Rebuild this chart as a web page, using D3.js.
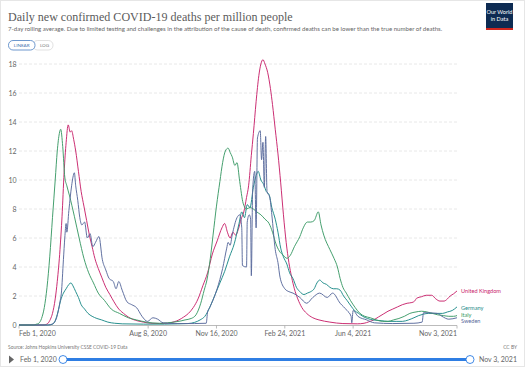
<!DOCTYPE html>
<html><head><meta charset="utf-8">
<script src="https://cdn.jsdelivr.net/npm/d3@7"></script>
<style>html,body{margin:0;padding:0;background:#fff;}svg{display:block;}</style>
</head><body>
<svg id="chart" width="525" height="367"></svg>
<script>
const countries = ["United Kingdom", "Germany", "Italy", "Sweden"];
const colors = ["#c8246c", "#1c8a88", "#3b9a66", "#58699c"];
const yTicks = [0, 2, 4, 6, 8, 10, 12, 14, 16, 18];
const xTickDates = ["2020-02-01", "2020-08-08", "2020-11-16", "2021-02-24", "2021-06-04", "2021-11-03"];
const xTickLabels = ["Feb 1, 2020", "Aug 8, 2020", "Nov 16, 2020", "Feb 24, 2021", "Jun 4, 2021", "Nov 3, 2021"];

const ukDates = ["2020-02-01","2020-03-07","2020-03-11","2020-03-14","2020-03-18","2020-03-21","2020-03-25","2020-03-28","2020-04-01","2020-04-04","2020-04-07","2020-04-10","2020-04-13","2020-04-16","2020-04-18","2020-04-21","2020-04-24","2020-04-28","2020-05-02","2020-05-06","2020-05-10","2020-05-14","2020-05-18","2020-05-22","2020-05-27","2020-06-01","2020-06-07","2020-06-13","2020-06-19","2020-06-26","2020-07-03","2020-07-10","2020-07-17","2020-07-24","2020-08-01","2020-08-12","2020-08-25","2020-09-05","2020-09-15","2020-09-22","2020-09-29","2020-10-06","2020-10-13","2020-10-20","2020-10-27","2020-11-03","2020-11-10","2020-11-17","2020-11-24","2020-11-28","2020-12-02","2020-12-06","2020-12-10","2020-12-14","2020-12-18","2020-12-22","2020-12-26","2020-12-30","2021-01-02","2021-01-06","2021-01-09","2021-01-13","2021-01-17","2021-01-20","2021-01-23","2021-01-26","2021-01-30","2021-02-03","2021-02-06","2021-02-10","2021-02-14","2021-02-18","2021-02-22","2021-02-26","2021-03-02","2021-03-06","2021-03-10","2021-03-15","2021-03-21","2021-03-28","2021-04-06","2021-04-15","2021-05-01","2021-05-20","2021-06-10","2021-06-20","2021-06-27","2021-07-04","2021-07-11","2021-07-18","2021-07-25","2021-08-01","2021-08-08","2021-08-15","2021-08-22","2021-08-29","2021-09-02","2021-09-05","2021-09-12","2021-09-19","2021-09-27","2021-10-03","2021-10-09","2021-10-15","2021-10-20","2021-10-24","2021-10-29","2021-11-03"];
const ukValues = [0,0,0.03,0.1,0.4,0.8,1.8,3.0,5.2,7.5,10.5,12.6,13.8,13.3,13.4,12.8,12.0,10.6,9.2,8.2,7.2,6.2,5.4,4.6,3.9,3.3,2.6,2.1,1.6,1.1,0.8,0.55,0.38,0.28,0.2,0.12,0.1,0.12,0.22,0.35,0.55,0.8,1.2,1.8,2.7,3.6,4.9,5.8,6.7,7.0,6.4,6.0,6.4,6.2,6.6,7.3,7.8,8.8,9.6,11.7,13.2,15.4,17.2,18.0,18.3,18.0,17.4,16.3,15.2,13.5,11.8,9.8,7.6,5.7,4.3,3.3,2.5,1.8,1.2,0.8,0.5,0.35,0.2,0.1,0.08,0.12,0.22,0.35,0.55,0.75,0.95,1.1,1.25,1.4,1.5,1.55,1.65,1.85,1.95,2.05,2.05,1.8,1.65,1.65,1.8,2.0,2.15,2.35];

const deDates = ["2020-02-01","2020-03-14","2020-03-21","2020-03-25","2020-03-29","2020-04-02","2020-04-06","2020-04-10","2020-04-14","2020-04-17","2020-04-20","2020-04-24","2020-04-28","2020-05-02","2020-05-07","2020-05-12","2020-05-18","2020-05-25","2020-06-01","2020-06-10","2020-06-20","2020-07-01","2020-08-01","2020-09-01","2020-09-20","2020-10-05","2020-10-15","2020-10-23","2020-10-30","2020-11-07","2020-11-14","2020-11-21","2020-11-28","2020-12-05","2020-12-12","2020-12-19","2020-12-23","2020-12-27","2020-12-31","2021-01-04","2021-01-09","2021-01-13","2021-01-16","2021-01-20","2021-01-24","2021-01-28","2021-02-01","2021-02-05","2021-02-10","2021-02-14","2021-02-18","2021-02-22","2021-02-27","2021-03-03","2021-03-08","2021-03-13","2021-03-18","2021-03-24","2021-03-29","2021-04-03","2021-04-08","2021-04-12","2021-04-16","2021-04-21","2021-04-26","2021-05-01","2021-05-06","2021-05-11","2021-05-16","2021-05-21","2021-05-26","2021-06-01","2021-06-06","2021-06-12","2021-06-18","2021-06-25","2021-07-03","2021-07-15","2021-07-25","2021-08-07","2021-08-15","2021-08-24","2021-09-01","2021-09-08","2021-09-15","2021-09-22","2021-09-29","2021-10-06","2021-10-13","2021-10-20","2021-10-27","2021-11-03"];
const deValues = [0,0,0.05,0.3,0.9,1.7,2.2,2.5,2.8,2.9,2.7,2.3,1.9,1.4,1.1,0.8,0.6,0.45,0.35,0.2,0.12,0.08,0.06,0.06,0.08,0.1,0.18,0.35,0.6,1.3,2.1,2.9,3.7,4.7,5.6,7.0,7.8,7.4,8.3,8.1,9.5,10.3,10.6,10.0,9.7,9.2,9.0,8.1,7.3,6.4,5.3,4.7,4.2,3.6,3.2,2.6,2.3,2.1,2.2,2.3,2.5,2.9,3.1,2.9,2.8,2.6,2.5,2.5,2.4,2.0,1.7,1.3,1.0,0.8,0.6,0.45,0.35,0.3,0.25,0.25,0.25,0.35,0.5,0.65,0.75,0.8,0.8,0.8,0.8,0.9,1.0,1.25];

const itDates = ["2020-02-01","2020-02-22","2020-02-26","2020-03-01","2020-03-05","2020-03-09","2020-03-13","2020-03-17","2020-03-21","2020-03-25","2020-03-28","2020-03-31","2020-04-02","2020-04-05","2020-04-08","2020-04-11","2020-04-15","2020-04-22","2020-04-29","2020-05-06","2020-05-13","2020-05-20","2020-05-27","2020-06-05","2020-06-15","2020-06-27","2020-07-10","2020-07-22","2020-08-05","2020-08-15","2020-08-25","2020-09-05","2020-09-15","2020-09-25","2020-10-01","2020-10-10","2020-10-17","2020-10-24","2020-10-29","2020-11-02","2020-11-07","2020-11-11","2020-11-16","2020-11-21","2020-11-25","2020-11-29","2020-12-03","2020-12-06","2020-12-09","2020-12-13","2020-12-16","2020-12-20","2020-12-25","2020-12-30","2021-01-04","2021-01-09","2021-01-14","2021-01-20","2021-01-26","2021-02-01","2021-02-06","2021-02-11","2021-02-16","2021-02-22","2021-02-27","2021-03-04","2021-03-10","2021-03-18","2021-03-23","2021-03-29","2021-04-03","2021-04-08","2021-04-14","2021-04-18","2021-04-22","2021-05-01","2021-05-07","2021-05-12","2021-05-16","2021-05-20","2021-05-25","2021-05-31","2021-06-07","2021-06-14","2021-06-21","2021-06-29","2021-07-08","2021-07-17","2021-07-25","2021-08-02","2021-08-10","2021-08-18","2021-08-26","2021-09-04","2021-09-12","2021-09-20","2021-09-28","2021-10-06","2021-10-14","2021-10-22","2021-10-29","2021-11-03"];
const itValues = [0,0,0.05,0.12,0.45,1.2,2.6,4.7,7.4,10.0,12.0,13.2,13.5,12.3,10.2,9.6,8.9,7.5,6.0,4.6,3.6,2.9,2.2,1.7,1.1,0.8,0.5,0.35,0.2,0.14,0.12,0.15,0.2,0.28,0.35,0.45,0.7,1.5,2.4,3.1,4.6,6.2,8.2,9.9,11.2,12.0,12.2,11.9,11.6,11.0,11.2,9.9,8.4,8.0,8.1,8.0,7.8,7.6,7.3,7.0,6.4,5.6,5.1,4.8,4.6,4.8,5.4,6.1,6.7,7.1,7.1,7.2,7.8,6.9,6.2,5.2,4.6,4.0,3.2,2.6,2.2,1.7,1.2,0.8,0.6,0.5,0.35,0.25,0.25,0.35,0.45,0.6,0.8,0.9,0.95,0.9,0.8,0.7,0.65,0.6,0.6,0.65];

const seDates = ["2020-02-01","2020-03-15","2020-03-22","2020-03-27","2020-04-01","2020-04-03","2020-04-06","2020-04-08","2020-04-10","2020-04-11","2020-04-14","2020-04-18","2020-04-20","2020-04-22","2020-04-24","2020-04-27","2020-04-30","2020-05-03","2020-05-07","2020-05-11","2020-05-15","2020-05-19","2020-05-23","2020-05-28","2020-06-02","2020-06-07","2020-06-12","2020-06-18","2020-06-22","2020-06-26","2020-07-01","2020-07-08","2020-07-15","2020-07-22","2020-07-30","2020-08-07","2020-08-15","2020-08-22","2020-08-30","2020-09-15","2020-10-15","2020-11-01","2020-11-03","2020-11-06","2020-11-17","2020-11-25","2020-12-01","2020-12-03","2020-12-06","2020-12-09","2020-12-16","2020-12-20","2020-12-23","2020-12-24","2020-12-30","2020-12-31","2021-01-03","2021-01-05","2021-01-06","2021-01-08","2021-01-11","2021-01-13","2021-01-15","2021-01-19","2021-01-21","2021-01-23","2021-01-25","2021-01-27","2021-01-29","2021-02-02","2021-02-05","2021-02-10","2021-02-14","2021-02-17","2021-02-24","2021-03-02","2021-03-08","2021-03-18","2021-03-28","2021-04-06","2021-04-16","2021-04-27","2021-05-05","2021-05-16","2021-05-26","2021-06-01","2021-06-02","2021-06-04","2021-06-11","2021-06-24","2021-07-05","2021-08-01","2021-09-01","2021-09-13","2021-09-15","2021-10-05","2021-10-12","2021-10-22","2021-11-03"];
const seValues = [0,0,0.1,0.5,1.6,2.2,4.5,6.0,7.0,6.4,7.9,9.6,10.2,10.5,9.6,8.6,7.4,6.9,7.1,6.0,6.3,5.4,5.7,6.1,4.5,3.8,3.2,3.0,2.5,3.0,2.4,1.6,1.4,1.2,0.6,0.25,0.5,0.4,0.15,0.1,0.1,0.12,0.9,1.2,2.5,3.9,5.3,5.7,5.5,6.2,7.4,7.6,6.7,4.1,4.0,7.1,7.6,7.3,3.4,9.4,10.6,6.7,12.9,13.4,11.4,12.6,9.5,13.0,9.2,8.8,7.6,5.2,4.3,3.3,2.5,2.3,2.2,1.9,1.5,1.9,2.2,1.9,2.2,1.5,1.0,0.6,0.15,1.0,0.6,0.35,0.15,0.1,0.12,0.2,0.85,0.8,0.6,0.4,0.5];

const seriesDates = [ukDates, deDates, itDates, seDates];
const seriesValues = [ukValues, deValues, itValues, seValues];
const labelY = [291, 308, 314.5, 321];

const parse = d3.timeParse("%Y-%m-%d");
const svg = d3.select("#chart");
const font = "Lato, 'Noto Sans', sans-serif";

svg.append("rect").attr("x",0.5).attr("y",0.5).attr("width",524).attr("height",366)
  .attr("fill","#fff").attr("stroke","#e6e6e6");

const x = d3.scaleTime().domain([parse("2020-02-01"), parse("2021-11-03")]).range([19, 457]);
const y = d3.scaleLinear().domain([0, 18]).range([325, 64]);

// title
const title = svg.append("text").attr("x",8).attr("y",21)
  .attr("font-family","'Liberation Serif', 'DejaVu Serif', serif").attr("font-size",15)
  .attr("fill","#5b5b5b").text("Daily new confirmed COVID-19 deaths per million people");
let tw = title.node().getComputedTextLength();
title.attr("font-size", 15*285/tw);

const sub = svg.append("text").attr("x",8).attr("y",31)
  .attr("font-family",font).attr("font-size",6.5).attr("fill","#666")
  .text("7-day rolling average. Due to limited testing and challenges in the attribution of the cause of death, confirmed deaths can be lower than the true number of deaths.");
let sw = sub.node().getComputedTextLength();
sub.attr("font-size", 6.5*435/sw);

// logo
svg.append("rect").attr("x",486).attr("y",3).attr("width",27).attr("height",27).attr("fill","#0d2b52");
svg.append("rect").attr("x",486).attr("y",28).attr("width",27).attr("height",2).attr("fill","#ce261e");
svg.append("text").attr("x",499.5).attr("y",14).attr("text-anchor","middle").attr("font-family",font)
  .attr("font-size",5.6).attr("fill","#fff").text("Our World");
svg.append("text").attr("x",499.5).attr("y",21).attr("text-anchor","middle").attr("font-family",font)
  .attr("font-size",5.6).attr("fill","#fff").text("in Data");

// buttons
svg.append("rect").attr("x",33).attr("y",40.5).attr("width",20).attr("height",9.5).attr("rx",4.5)
  .attr("fill","#fff").attr("stroke","#ccc").attr("stroke-width",0.6);
svg.append("rect").attr("x",8.5).attr("y",40.5).attr("width",26.5).attr("height",9.5).attr("rx",4.5)
  .attr("fill","#fff").attr("stroke","#4a7fc1").attr("stroke-width",0.8);
svg.append("text").attr("x",21.7).attr("y",47.2).attr("text-anchor","middle").attr("font-family",font)
  .attr("font-size",4.6).attr("fill","#3b6fae").text("LINEAR");
svg.append("text").attr("x",44.5).attr("y",47.2).attr("text-anchor","middle").attr("font-family",font)
  .attr("font-size",4.6).attr("fill","#777").text("LOG");

// grid + y labels
const grid = svg.append("g");
grid.selectAll("line").data(yTicks.filter(d => d > 0)).join("line")
  .attr("x1",19).attr("x2",457).attr("y1",d=>y(d)).attr("y2",d=>y(d))
  .attr("stroke","#e2e2e2").attr("stroke-width",0.8).attr("stroke-dasharray","3,2");
svg.append("g").selectAll("text").data(yTicks).join("text")
  .attr("x",16.5).attr("y",d=>y(d)+2.5).attr("text-anchor","end")
  .attr("font-family",font).attr("font-size",7).attr("fill","#666").text(d=>d);

// x axis
svg.append("line").attr("x1",19).attr("x2",457).attr("y1",325.5).attr("y2",325.5)
  .attr("stroke","#aaa").attr("stroke-width",0.8);
const xt = svg.append("g");
xTickDates.forEach((d,i) => {
  const px = x(parse(d));
  xt.append("line").attr("x1",px).attr("x2",px).attr("y1",325.5).attr("y2",328.5).attr("stroke","#aaa").attr("stroke-width",0.8);
  xt.append("text").attr("x",px).attr("y",335.5)
    .attr("text-anchor", i===0 ? "start" : (i===xTickDates.length-1 ? "end" : "middle"))
    .attr("font-family",font).attr("font-size",7).attr("fill","#666").text(xTickLabels[i]);
});

// lines
const line = d3.line().x(d=>x(d.date)).y(d=>y(d.value)).curve(d3.curveMonotoneX);
countries.forEach((c,i) => {
  const data = seriesDates[i].map((d,j)=>({date:parse(d), value:seriesValues[i][j]}));
  svg.append("path").datum(data).attr("d",line).attr("fill","none")
    .attr("stroke",colors[i]).attr("stroke-width",0.95).attr("stroke-linejoin","round");
  svg.append("text").attr("x",461).attr("y",labelY[i]+2).attr("font-family",font)
    .attr("font-size",5.6).attr("fill",colors[i]).text(c);
});

// source
svg.append("text").attr("x",8).attr("y",348.5).attr("font-family",font).attr("font-size",4.9)
  .attr("fill","#777").text("Source: Johns Hopkins University CSSE COVID-19 Data");
svg.append("text").attr("x",517).attr("y",348.5).attr("text-anchor","end").attr("font-family",font)
  .attr("font-size",4.9).attr("fill","#777").text("CC BY");

// timeline
svg.append("path").attr("d","M9,355.5 L14,359.5 L9,363.5 Z").attr("fill","#666");
svg.append("text").attr("x",20).attr("y",362).attr("font-family",font).attr("font-size",7)
  .attr("fill","#666").text(xTickLabels[0]);
svg.append("line").attr("x1",63).attr("x2",470).attr("y1",359.5).attr("y2",359.5)
  .attr("stroke","#2f7ee3").attr("stroke-width",3);
[63,470].forEach(cx => svg.append("circle").attr("cx",cx).attr("cy",359.5).attr("r",4)
  .attr("fill","#fff").attr("stroke","#2f7ee3").attr("stroke-width",0.9));
svg.append("text").attr("x",517).attr("y",362).attr("text-anchor","end").attr("font-family",font)
  .attr("font-size",7).attr("fill","#666").text(xTickLabels[5]);
</script>
</body></html>
